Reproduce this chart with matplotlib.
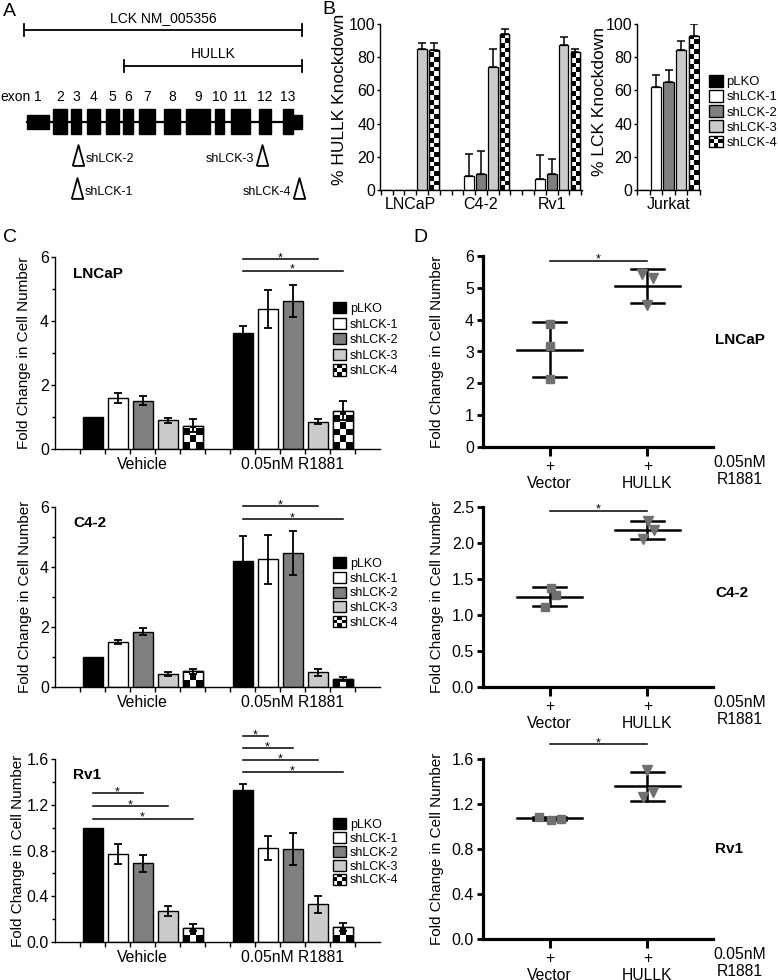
import numpy as np
import matplotlib
matplotlib.use('Agg')
import matplotlib.pyplot as plt
from matplotlib.patches import Rectangle, Patch
from matplotlib.legend_handler import HandlerBase
from matplotlib.ticker import MultipleLocator, FormatStrFormatter

plt.rcParams['font.family'] = ['Liberation Sans', 'DejaVu Sans']

# ---- data ----
shrna = ['pLKO', 'shLCK-1', 'shLCK-2', 'shLCK-3', 'shLCK-4']
bar_colors = ['black', 'white', '#7f7f7f', '#cbcbcb', 'white']

# A: gene model (drawing units along the transcript)
exon_start = [27, 53, 71, 87, 106, 123, 139, 164, 186, 215, 231, 259, 283]
exon_end = [49, 67, 81, 100, 119, 133, 155, 180, 210, 224, 250, 271, 293]
exon_coding = [False] + [True] * 12
utr3 = (293, 302)
lck_span = (24, 302)
hullk_span = (124, 302)
sh_names = ['shLCK-2', 'shLCK-1', 'shLCK-3', 'shLCK-4']
sh_sites = [78, 76.5, 262, 299]
sh_row = [0, 1, 0, 1]

# B: knockdown
kd_lines = ['LNCaP', 'C4-2', 'Rv1']
hullk_kd = np.array([[0, 0, 0, 85.0, 84.5],
                     [0, 8.5, 9.7, 73.8, 94.0],
                     [0, 6.4, 9.7, 87.1, 83.1]])
hullk_err = np.array([[0, 0, 0, 3.4, 4.0],
                      [0, 13.2, 14.0, 11.1, 3.2],
                      [0, 14.7, 9.2, 5.0, 1.8]])
jurkat_kd = np.array([0, 62.0, 65.0, 84.5, 92.6])
jurkat_err = np.array([0, 7.4, 7.4, 5.0, 7.4])

# C: fold change, shRNA
treatments = ['Vehicle', '0.05nM R1881']
lncap_veh = [1.0, 1.60, 1.51, 0.90, 0.73]
lncap_veh_err = [0, 0.15, 0.15, 0.08, 0.20]
lncap_r18 = [3.62, 4.38, 4.63, 0.85, 1.20]
lncap_r18_err = [0.23, 0.60, 0.50, 0.08, 0.30]
c42_veh = [1.0, 1.49, 1.85, 0.44, 0.52]
c42_veh_err = [0, 0.07, 0.13, 0.06, 0.08]
c42_r18 = [4.20, 4.26, 4.46, 0.49, 0.26]
c42_r18_err = [0.85, 0.82, 0.73, 0.12, 0.06]
rv1_veh = [1.0, 0.77, 0.69, 0.27, 0.125]
rv1_veh_err = [0, 0.085, 0.075, 0.045, 0.03]
rv1_r18 = [1.33, 0.82, 0.81, 0.33, 0.133]
rv1_r18_err = [0.055, 0.105, 0.14, 0.075, 0.035]
# significance: (treatment group, shRNA index compared with pLKO, bar height)
sig_lncap = [(1, 3, 5.94), (1, 4, 5.57)]
sig_c42 = [(1, 3, 6.03), (1, 4, 5.60)]
sig_rv1 = [(0, 2, 1.30), (0, 3, 1.19), (0, 4, 1.078),
           (1, 1, 1.797), (1, 2, 1.696), (1, 3, 1.588), (1, 4, 1.484)]

# D: HULLK overexpression, replicate points
d_groups = ['Vector', 'HULLK']
d_lncap_vec = [3.85, 3.18, 2.13]
d_lncap_hul = [5.42, 5.30, 4.45]
d_c42_vec = [1.37, 1.28, 1.11]
d_c42_hul = [2.30, 2.18, 2.06]
d_rv1_vec = [1.085, 1.06, 1.07]
d_rv1_hul = [1.50, 1.31, 1.26]
jit_lncap = ([0, 0, 0], [-0.06, 0.06, 0])
jit_c42 = ([0.01, 0.07, -0.05], [0.01, 0.07, -0.05])
jit_rv1 = ([-0.11, 0.01, 0.12], [0, 0.06, -0.05])
d_sig = [5.85, 2.45, 1.73]

# ---- figure ----
W, H = 778, 980
fig = plt.figure(figsize=(W / 100, H / 100), dpi=100)


def px_axes(l, t, r, b):
    return fig.add_axes([l / W, 1 - b / H, (r - l) / W, (b - t) / H])


def ftext(x, y, s, **kw):
    return fig.text(x / W, 1 - y / H, s, **kw)


def checker(ax, rect, ncols):
    x0, w, h = rect.get_x(), rect.get_width(), rect.get_height()
    if h <= 0:
        return
    p0 = ax.transData.transform((x0, 0))
    p1 = ax.transData.transform((x0 + w, h))
    cell = (p1[0] - p0[0]) / ncols
    hpx = p1[1] - p0[1]
    nrows = int(np.ceil(hpx / cell))
    img = np.indices((nrows, ncols)).sum(axis=0) % 2
    ch = cell * h / hpx
    im = ax.imshow(img, cmap='gray', vmin=0, vmax=1, origin='lower', aspect='auto',
                   interpolation='nearest', extent=(x0, x0 + w, 0, nrows * ch), zorder=1.05)
    im.set_clip_path(rect)
    ax.add_patch(Rectangle((x0, 0), w, h, fill=False, ec='black', lw=1, zorder=1.1))


class CheckerHandler(HandlerBase):
    def create_artists(self, legend, orig_handle, xd, yd, w, h, fontsize, trans):
        arts = [Rectangle((-xd, -yd), w, h, fc='white', ec='none', transform=trans)]
        n = 3
        for i in range(n):
            for j in range(n):
                if (i + j) % 2 == 1:
                    arts.append(Rectangle((-xd + i * w / n, -yd + j * h / n), w / n, h / n,
                                          fc='black', ec='none', transform=trans))
        arts.append(Rectangle((-xd, -yd), w, h, fill=False, ec='black', lw=1, transform=trans))
        return arts


def add_legend(x, y, fs, spacing):
    handles = [Patch(fc=c, ec='black', lw=1) for c in bar_colors[:4]]
    handles.append(Patch(fc='white', ec='black'))
    fig.legend(handles, shrna, loc='upper left', bbox_to_anchor=(x / W, 1 - y / H),
               frameon=False, borderpad=0, borderaxespad=0, fontsize=fs,
               handlelength=1.05, handleheight=1.0, handletextpad=0.3,
               labelspacing=spacing, handler_map={handles[4]: CheckerHandler()})


def clean(ax, lw=1.0):
    for s in ['top', 'right']:
        ax.spines[s].set_visible(False)
    for s in ['left', 'bottom']:
        ax.spines[s].set_linewidth(lw)


# ---- A ----
axA = px_axes(0, 0, 320, 205)
axA.set_xlim(0, 320)
axA.set_ylim(205, 0)
axA.axis('off')
for span, y, name, tx in [(lck_span, 30, 'LCK NM_005356', np.mean(lck_span)),
                          (hullk_span, 66, 'HULLK', 213)]:
    axA.plot(span, [y, y], color='black', lw=1.3)
    for x in span:
        axA.plot([x, x], [y - 6, y + 6], color='black', lw=1.3)
    axA.text(tx, y - 12, name, ha='center', va='center', fontsize=10)
axA.plot([exon_start[0], utr3[1]], [122, 122], color='black', lw=1.6)
axA.text(0, 97, 'exon', ha='left', va='center', fontsize=10)
for i, (s, e, c) in enumerate(zip(exon_start, exon_end, exon_coding)):
    h = 25 if c else 14
    axA.add_patch(Rectangle((s, 122 - h / 2), e - s, h, fc='black', ec='black'))
    axA.text((s + e) / 2, 97, str(i + 1), ha='center', va='center', fontsize=10)
axA.add_patch(Rectangle((utr3[0], 115), utr3[1] - utr3[0], 14, fc='black', ec='black'))
tri = [(-0.55, -1), (0.55, -1), (0, 1), (-0.55, -1)]
for name, x, row in zip(sh_names, sh_sites, sh_row):
    y = 155 + row * 33
    axA.plot(x, y, marker=tri, ms=15, mfc='white', mec='black', mew=1.3)
    if x < 160:
        axA.text(x + 8, y + 4, name, ha='left', va='center', fontsize=9)
    else:
        axA.text(x - 8, y + 4, name, ha='right', va='center', fontsize=9)

# ---- B ----
axB1 = px_axes(380, 24, 582, 190)
axB1.set_xlim(-2.56, 14.56)
axB1.set_ylim(0, 100)
gx = np.arange(3) * 6
for k in range(5):
    xs = gx + k - 2
    bars = axB1.bar(xs, hullk_kd[:, k], width=0.8, color=bar_colors[k], edgecolor='black',
                    linewidth=0.9, zorder=1)
    if k == 4:
        for r in bars:
            checker(axB1, r, 2)
    m = hullk_err[:, k] > 0
    axB1.errorbar(xs[m], hullk_kd[m, k], yerr=[np.zeros(m.sum()), hullk_err[m, k]], fmt='none',
                  ecolor='black', elinewidth=1.1, capsize=3, capthick=1.1, zorder=3)
axB1.set_xticks(gx)
axB1.set_xticklabels(kd_lines, fontsize=11.5)
axB1.set_xticks(np.arange(-2.5, 14.6, 1), minor=True)
axB1.set_yticks(np.arange(0, 101, 20))
axB1.tick_params(axis='y', labelsize=11.5, length=2.5, width=1, pad=1)
axB1.tick_params(axis='x', which='major', length=0, pad=5)
axB1.tick_params(axis='x', which='minor', length=3.5, width=1)
clean(axB1)
ftext(339, 99, '% HULLK Knockdown', rotation=90, ha='center', va='center', fontsize=12.5)

axB2 = px_axes(637, 24, 700, 190)
axB2.set_xlim(-0.5, 4.5)
axB2.set_ylim(0, 100)
xj = np.arange(5)
for k in range(5):
    bars = axB2.bar(xj[k], jurkat_kd[k], width=0.8, color=bar_colors[k], edgecolor='black',
                    linewidth=0.9, zorder=1)
    if k == 4:
        checker(axB2, bars[0], 2)
    if jurkat_err[k] > 0:
        axB2.errorbar(xj[k], jurkat_kd[k], yerr=[[0], [jurkat_err[k]]], fmt='none',
                      ecolor='black', elinewidth=1.1, capsize=3, capthick=1.1, zorder=3)
axB2.set_xticks([2])
axB2.set_xticklabels(['Jurkat'], fontsize=11.5)
axB2.set_xticks(np.arange(-0.5, 4.6, 1), minor=True)
axB2.set_yticks(np.arange(0, 101, 20))
axB2.tick_params(axis='y', labelsize=11.5, length=2.5, width=1, pad=1)
axB2.tick_params(axis='x', which='major', length=0, pad=5)
axB2.tick_params(axis='x', which='minor', length=3.5, width=1)
clean(axB2)
ftext(599, 102, '% LCK Knockdown', rotation=90, ha='center', va='center', fontsize=12.5)
add_legend(709, 75, 9.4, 0.14)


# ---- C ----
def bar_panel(top, bottom, veh, veh_err, r18, r18_err, ymax, ystep, fmt, sigs, name,
              leg_y, leg_sp, lab_x):
    ax = px_axes(55, top, 380, bottom)
    ax.set_xlim(-3.5, 9.5)
    ax.set_ylim(0, ymax)
    vals = np.array([veh, r18])
    errs = np.array([veh_err, r18_err])
    gxs = np.array([0, 6])
    for k in range(5):
        xs = gxs + k - 2
        bars = ax.bar(xs, vals[:, k], width=0.8, color=bar_colors[k], edgecolor='black',
                      linewidth=1.0, zorder=1)
        if k == 4:
            for r in bars:
                checker(ax, r, 3)
        m = errs[:, k] > 0
        ax.errorbar(xs[m], vals[m, k], yerr=errs[m, k], fmt='none', ecolor='black',
                    elinewidth=1.3, capsize=3, capthick=1.3, zorder=3)
    for g, k, y in sigs:
        x1, x2 = gxs[g] - 2, gxs[g] + k - 2
        ax.plot([x1, x2], [y, y], color='black', lw=1.1, clip_on=False)
        ax.annotate('*', xy=((x1 + x2) / 2, y), xytext=(0, -1.5), textcoords='offset points',
                    ha='center', va='baseline', fontsize=9, annotation_clip=False)
    ax.set_xticks(gxs)
    ax.set_xticklabels(treatments, fontsize=11.3)
    ax.set_xticks(np.arange(-2.5, 9.0, 1), minor=True)
    ax.yaxis.set_major_locator(MultipleLocator(ystep))
    ax.yaxis.set_minor_locator(MultipleLocator(ystep / 2))
    ax.yaxis.set_major_formatter(FormatStrFormatter(fmt))
    ax.tick_params(axis='y', which='major', labelsize=11.5, length=3, width=1, pad=1.5)
    ax.tick_params(axis='y', which='minor', length=2, width=1)
    ax.tick_params(axis='x', which='major', length=0, pad=6)
    ax.tick_params(axis='x', which='minor', length=3.5, width=1)
    clean(ax)
    ax.text(0.055, 0.91, name, transform=ax.transAxes, fontsize=11, fontweight='bold',
            ha='left', va='center')
    ftext(lab_x, (top + bottom) / 2, 'Fold Change in Cell Number', rotation=90,
          ha='center', va='center', fontsize=11)
    add_legend(333, leg_y, 9, leg_sp)
    return ax


bar_panel(257, 449, lncap_veh, lncap_veh_err, lncap_r18, lncap_r18_err, 6, 2, '%d',
          sig_lncap, 'LNCaP', 302, 0.22, 24)
bar_panel(507, 687, c42_veh, c42_veh_err, c42_r18, c42_r18_err, 6, 2, '%d',
          sig_c42, 'C4-2', 557, 0.15, 25)
bar_panel(759, 942, rv1_veh, rv1_veh_err, rv1_r18, rv1_r18_err, 1.6, 0.4, '%.1f',
          sig_rv1, 'Rv1', 818, 0.08, 18)


# ---- D ----
def dot_panel(top, bottom, vec, hul, jit, ymax, ystep, fmt, sig_y, name, name_y):
    ax = px_axes(483, top, 713, bottom)
    ax.set_xlim(0.32, 2.67)
    ax.set_ylim(0, ymax)
    for i, (pts, dx, mk, ms) in enumerate([(vec, jit[0], 's', 5.5), (hul, jit[1], 'v', 6.5)]):
        x0 = i + 1
        pts = np.array(pts)
        mu, sd = pts.mean(), pts.std(ddof=1)
        ax.plot([x0 - 0.33, x0 + 0.33], [mu, mu], color='black', lw=1.8, zorder=2)
        for yy in (mu - sd, mu + sd):
            ax.plot([x0 - 0.17, x0 + 0.17], [yy, yy], color='black', lw=1.8, zorder=2)
        ax.plot([x0, x0], [mu - sd, mu + sd], color='black', lw=1.8, zorder=2)
        ax.plot(x0 + np.array(dx), pts, linestyle='none', marker=mk, ms=ms, color='#707070',
                zorder=3)
    ax.plot([1, 2], [sig_y, sig_y], color='black', lw=1.1, clip_on=False)
    ax.annotate('*', xy=(1.5, sig_y), xytext=(0, -1.5), textcoords='offset points',
                ha='center', va='baseline', fontsize=9, annotation_clip=False)
    ax.set_xticks([1, 2])
    ax.set_xticklabels(['+\n' + g for g in d_groups], fontsize=11.3, linespacing=1.15)
    ax.yaxis.set_major_locator(MultipleLocator(ystep))
    ax.yaxis.set_major_formatter(FormatStrFormatter(fmt))
    ax.tick_params(axis='y', labelsize=11.5, length=4.5, width=2, pad=2)
    ax.tick_params(axis='x', length=6.5, width=2.2, pad=2)
    clean(ax, 2.3)
    ax.text(1.01, name_y, name, transform=ax.transAxes, fontsize=11, fontweight='bold',
            ha='left', va='center')
    ax.annotate('0.05nM\nR1881', xy=(1.117, 0), xycoords='axes fraction', xytext=(0, -24),
                textcoords='offset pixels', ha='center', va='center', fontsize=11.3,
                linespacing=1.15, annotation_clip=False)
    ftext(437, (top + bottom) / 2, 'Fold Change in Cell Number', rotation=90,
          ha='center', va='center', fontsize=11)
    return ax


dot_panel(256, 447, d_lncap_vec, d_lncap_hul, jit_lncap, 6, 1, '%d', d_sig[0], 'LNCaP', 0.56)
dot_panel(507, 687, d_c42_vec, d_c42_hul, jit_c42, 2.5, 0.5, '%.1f', d_sig[1], 'C4-2', 0.52)
dot_panel(759, 939, d_rv1_vec, d_rv1_hul, jit_rv1, 1.6, 0.4, '%.1f', d_sig[2], 'Rv1', 0.50)

# panel letters
ftext(3, 11, 'A', fontsize=14, va='center')
ftext(322, 10, 'B', fontsize=14, va='center')
ftext(3, 238, 'C', fontsize=14, va='center')
ftext(413, 237, 'D', fontsize=14, va='center')

fig.savefig('out.png', dpi=100)
plt.close('all')
